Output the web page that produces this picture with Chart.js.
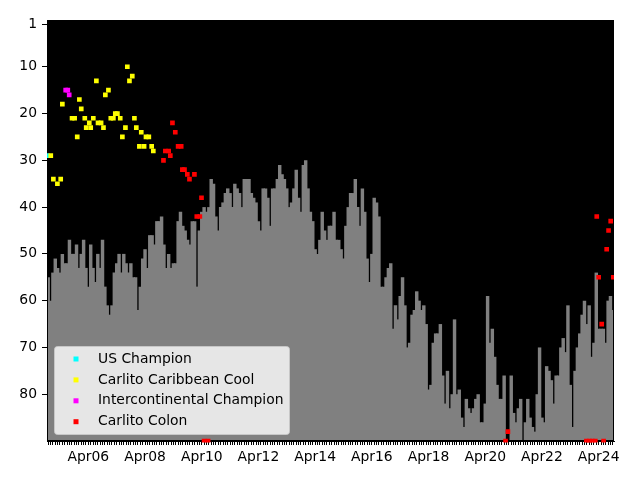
<!DOCTYPE html>
<html><head><meta charset="utf-8">
<script src="https://cdn.jsdelivr.net/npm/chart.js@4/dist/chart.umd.min.js"></script>
<style>html,body{margin:0;padding:0;background:#fff}#wrap{width:640px;height:480px}</style>
</head><body><div id="wrap"><canvas id="c" width="640" height="480"></canvas></div>
<script>
// Month index 0 = Nov 2004, one grey bar per month
const firstMonth = [2004, 11];
const barRanks = [
 55,60,54,51,53,54,50,52,52,47, 50,50,48,53,50,47,53,57,48,53, 56,50,53,47,57,61,63,61,54,52,
 50,54,50,52,54,52,55,55,62,57, 51,49,53,46,46,48,43,43,42,48, 53,50,53,52,52,43,41,44,45,47,
 48,43,43,57,45,41,40,41,40,34, 35,42,45,40,39,37,36,37,40,35, 36,37,40,34,34,34,37,38,39,43,
 45,36,36,38,44,36,36,34,31,33, 34,36,40,39,36,32,38,41,31,30, 36,41,43,49,50,47,41,45,47,44,
 44,41,47,47,49,51,44,40,37,37, 34,40,44,36,41,51,56,50,38,39, 42,57,57,55,53,52,66,61,64,59,
 55,61,70,69,63,62,58,60,62,61, 65,79,78,69,67,67,65,76,82,75, 83,80,64,80,79,85,87,81,83,84,
 83,81,80,86,86,82,59,69,66,72, 78,81,81,76,90,90,76,84,86,83, 81,90,86,81,85,87,88,80,70,85,
 86,74,75,77,82,76,76,70,68,71, 61,78,87,75,70,67,63,60,65,61, 72,69,54,66,66,66,69,60,59,62
];
const tickLabels = ['Apr06','Apr08','Apr10','Apr12','Apr14','Apr16','Apr18','Apr20','Apr22','Apr24'];
const tickMonths = ['2006-04','2008-04','2010-04','2012-04','2014-04','2016-04','2018-04','2020-04','2022-04','2024-04'];
const yTickValues = [1,10,20,30,40,50,60,70,80];
const seriesNames = ['US Champion','Carlito Caribbean Cool','Intercontinental Champion','Carlito Colon'];
const seriesColors = ['#00ffff','#ffff00','#ff00ff','#ff0000'];

const usChampionMonth = [-0.5];
const usChampionRank  = [29];
const caribbeanCoolMonth = [1.1,2.2,3.9,5.3,6.0,10.1,11.2,12.3,13.2,14.0,15.5,16.1,17.4,18.0,19.1,20.4,21.1,22.4,23.4,24.2,25.5,26.5,27.6,28.4,29.3,30.5,31.4,32.7,33.5,34.4,35.6,36.5,37.3,38.6,39.4,40.6,41.4,42.6,43.8,44.5];
const caribbeanCoolRank  = [29,34,35,34,18,21,21,25,17,19,21,23,22,23,21,13,22,22,23,16,15,21,21,20,20,21,25,23,10,13,12,21,23,27,24,27,25,25,27,28];
const interconMonth = [7.4,8.3,8.9];
const interconRank  = [15,15,16];
const colonMonth = [48.8,49.6,51.0,51.7,52.6,53.8,55.0,56.3,56.8,57.7,58.9,59.8,61.9,64.9,62.9,64.2,66.0,67.7,193.6,194.6,227.8,229.1,230.3,231.6,232.2,233.0,234.3,235.1,236.4,237.2,238.1,239.2];
const colonRank  = [30,28,28,29,22,24,27,27,32,32,33,34,33,38,42,42,90,90,90,88,90,90,90,90,42,55,65,90,49,45,43,55];

const monthIdx = s => { const [y,m] = s.split('-').map(Number); return (y-firstMonth[0])*12 + (m-firstMonth[1]); };
const tickMap = {}; tickMonths.forEach((s,k)=>{ tickMap[monthIdx(s)] = tickLabels[k]; });
const pts = (xs, ys) => xs.map((x,i)=>({x, y: ys[i]}));

Chart.defaults.font.family = 'DejaVu Sans';
Chart.defaults.font.size = 13.9;
Chart.defaults.color = '#000';

const BAR_INDEX = 4;
const bgPlugin = {
  id: 'bg',
  beforeDatasetsDraw(chart) {
    const a = chart.chartArea, ctx = chart.ctx;
    ctx.save(); ctx.fillStyle = '#000';
    ctx.fillRect(a.left, a.top, a.right - a.left, a.bottom - a.top);
    ctx.restore();
  },
  afterDatasetDraw(chart, args) {
    if (args.index !== BAR_INDEX) return;
    const a = chart.chartArea, ctx = chart.ctx;
    ctx.save();
    ctx.strokeStyle = '#000'; ctx.lineWidth = 1;
    ctx.strokeRect(a.left + 0.5, a.top + 0.5, a.right - a.left - 1, a.bottom - a.top - 1);
    ctx.restore();
  },
  afterDatasetsDraw(chart) {
    const a = chart.chartArea, ctx = chart.ctx;
    ctx.save();
    const bx = a.left + 7.5, by = a.top + 326.5, bw = 235, bh = 88;
    ctx.beginPath();
    ctx.roundRect(bx, by, bw, bh, 3);
    ctx.fillStyle = 'rgba(255,255,255,0.8)'; ctx.fill();
    ctx.strokeStyle = 'rgba(204,204,204,0.8)'; ctx.lineWidth = 1; ctx.stroke();
    ctx.font = '13.9px "DejaVu Sans"'; ctx.textBaseline = 'middle'; ctx.textAlign = 'left';
    seriesNames.forEach((n,k) => {
      const y = by + 12.5 + k*20.9;
      ctx.fillStyle = seriesColors[k];
      ctx.fillRect(bx + 19, y - 2.5, 5, 5);
      ctx.fillStyle = '#000';
      ctx.fillText(n, bx + 43.5, y);
    });
    ctx.restore();
  }
};

const sc = (k, data, order) => ({
  type: 'scatter', label: seriesNames[k], data, order,
  pointStyle: 'rect', pointRadius: 3.3, pointHoverRadius: 3.3,
  backgroundColor: seriesColors[k], borderWidth: 0, showLine: false,
  clip: { left: 0, top: 0, right: 0, bottom: 1.5 }
});

new Chart(document.getElementById('c'), {
  type: 'scatter',
  data: { datasets: [
    sc(3, pts(colonMonth, colonRank), 1),
    sc(2, pts(interconMonth, interconRank), 2),
    sc(1, pts(caribbeanCoolMonth, caribbeanCoolRank), 3),
    sc(0, pts(usChampionMonth, usChampionRank), 4),
    { type: 'bar', label: 'rank', order: 10,
      data: barRanks.map((v,i)=>({x: i, y: [v, 90]})),
      backgroundColor: '#808080', borderWidth: 0, inflateAmount: 0,
      barPercentage: 1.45, categoryPercentage: 1, grouped: false }
  ]},
  options: {
    responsive: false, animation: false, devicePixelRatio: 1,
    layout: { padding: { top: 20, right: 26, left: 0, bottom: 0 } },
    plugins: { legend: { display: false }, tooltip: { enabled: false } },
    scales: {
      x: { type: 'linear', min: -0.5, max: barRanks.length - 0.5, offset: false,
        afterBuildTicks: s => { s.ticks = barRanks.map((_,i)=>({value: i})); },
        afterFit: s => { s.height = 39; },
        grid: { display: true, drawOnChartArea: false, drawTicks: true, tickLength: 4, tickColor: '#000', offset: false },
        border: { display: true, color: '#000' },
        ticks: { autoSkip: false, maxRotation: 0, minRotation: 0, padding: 4,
          callback: v => tickMap[v] || '' } },
      y: { type: 'linear', min: 0, max: 90, reverse: true,
        afterBuildTicks: s => { s.ticks = yTickValues.map(v=>({value: v})); },
        afterFit: s => { s.width = 47; },
        grid: { display: true, drawOnChartArea: false, drawTicks: true, tickLength: 5, tickColor: '#000' },
        border: { display: true, color: '#000' },
        ticks: { padding: 5 } }
    }
  },
  plugins: [bgPlugin]
});
</script></body></html>
